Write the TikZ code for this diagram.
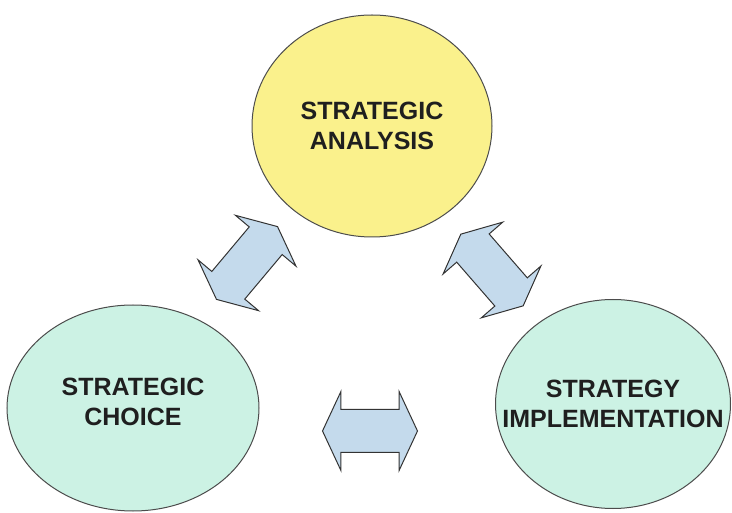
\documentclass[tikz,border=0pt]{standalone}
\usepackage{fontspec}
\setmainfont{Liberation Sans}
\usetikzlibrary{shapes.geometric,shapes.arrows}
\definecolor{analysisyellow}{RGB}{250,241,140}
\definecolor{stagegreen}{RGB}{204,242,228}
\definecolor{arrowblue}{RGB}{196,218,236}
\begin{document}
\begin{tikzpicture}[x=1pt, y=-1pt,
    every node/.style={font=\bfseries\fontsize{25}{30}\selectfont, text=black!88, align=center},
    stage/.style={ellipse, draw=black!70, line width=1pt, inner sep=0pt},
    link/.style={double arrow, draw=black!80, line width=1pt, fill=arrowblue,
        inner xsep=0pt, inner ysep=21pt,
        minimum height=95pt, minimum width=78pt, double arrow head extend=18pt,
        double arrow tip angle=130}]
    \useasboundingbox (0, 0) rectangle (732, 513);

    \node[stage, fill=analysisyellow, minimum width=240pt, minimum height=222pt] (analysis) at (372, 126) {};
    \node[stage, fill=stagegreen, minimum width=252pt, minimum height=206pt] (choice) at (133, 408) {};
    \node[stage, fill=stagegreen, minimum width=235pt, minimum height=209pt] (impl) at (613, 404) {};

    \node (analysistext) at (analysis) {STRATEGIC\\ANALYSIS};
    \node (choicetext) at ([yshift=6pt]choice) {STRATEGIC\\CHOICE};
    \node (impltext) at (impl) {STRATEGY\\IMPLEMENTATION};

    \node[link, rotate=50] (ac) at (247, 263) {};
    \node[link, rotate=-49] (ai) at (492, 270) {};
    \node[link] (ci) at (370, 431) {};
\end{tikzpicture}
\end{document}
